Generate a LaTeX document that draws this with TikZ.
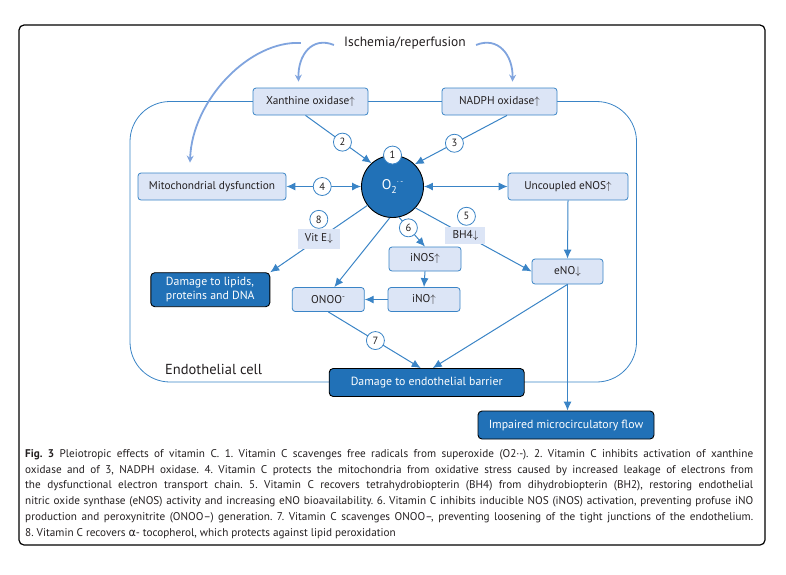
\documentclass[tikz,border=0pt]{standalone}
\usepackage{fontspec}
\setmainfont{PT Sans}
\newfontfamily\greekfont{DejaVu Sans}
\usetikzlibrary{arrows.meta}
\usetikzlibrary{calc}
\definecolor{cellblue}{RGB}{58,132,198}
\definecolor{boxfill}{RGB}{220,229,246}
\definecolor{darkblue}{RGB}{33,113,183}
\definecolor{swooshblue}{RGB}{128,164,222}
\definecolor{inkgrey}{RGB}{35,31,32}

\begin{document}
\begin{tikzpicture}[x = 1pt, y = -1pt,
            lbox/.style = {draw = cellblue, fill = boxfill, rounded corners = 3pt, line width = 0.8pt, inner sep = 0pt, text = inkgrey, font = \fontsize{11.3}{13}\selectfont},
            dbox/.style = {draw = black, fill = darkblue, rounded corners = 4pt, line width = 0.9pt, inner sep = 0pt, text = white, font = \fontsize{11.8}{14}\selectfont},
            tag/.style = {fill = boxfill, inner sep = 0pt, text = inkgrey, font = \fontsize{11.3}{13}\selectfont},
            num/.style = {circle, draw = cellblue, fill = white, line width = 0.8pt, minimum size = 18pt, inner sep = 0pt, text = inkgrey, font = \fontsize{10.5}{12}\selectfont},
            link/.style = {cellblue, line width = 1pt, -{Latex[length = 9pt, width = 8pt]}},
            both/.style = {cellblue, line width = 1pt, {Latex[length = 9pt, width = 8pt]}-{Latex[length = 9pt, width = 8pt]}},
            swoosh/.style = {swooshblue, line width = 1.8pt, -{Stealth[length = 7pt, width = 7pt]}}]
            \useasboundingbox (0,0) rectangle (786,574);
            \draw[black, line width = 1.2pt, rounded corners = 5pt] (19,25) rectangle (765,545);
            \draw[cellblue, line width = 0.8pt, rounded corners = 40pt] (130,101.5) rectangle (636.5,382);

            \node[inner sep = 0pt, text = inkgrey, font = \fontsize{13.5}{16}\selectfont] (isch) at (405,43) {Ischemia/reperfusion};
            \node[lbox, minimum width = 115pt, minimum height = 27pt] (xo) at (310.5,101.5) {Xanthine oxidase$\uparrow$};
            \node[lbox, minimum width = 115pt, minimum height = 27pt] (nox) at (499.5,101.5) {NADPH oxidase$\uparrow$};
            \node[lbox, minimum width = 148pt, minimum height = 27pt] (mito) at (212,186.5) {Mitochondrial dysfunction};
            \node[lbox, minimum width = 120pt, minimum height = 27pt] (unc) at (568,186.5) {Uncoupled eNOS$\uparrow$};
            \node[lbox, minimum width = 72pt, minimum height = 24pt] (inos) at (425,259) {iNOS$\uparrow$};
            \node[lbox, minimum width = 72pt, minimum height = 24pt] (ino) at (424,299.5) {iNO$\uparrow$};
            \node[lbox, minimum width = 72pt, minimum height = 24pt] (onoo) at (328.3,299.5) {ONOO\textsuperscript{-}};
            \node[lbox, minimum width = 71pt, minimum height = 25pt] (eno) at (567.5,271.5) {eNO$\downarrow$};
            \node[dbox, minimum width = 119pt, minimum height = 34pt, align = left] (lipids) at (210.3,289.7) {Damage to lipids,\\proteins and DNA};
            \node[dbox, minimum width = 195pt, minimum height = 28pt] (barrier) at (426.7,382.5) {Damage to endothelial barrier};
            \node[dbox, minimum width = 176pt, minimum height = 28pt] (imp) at (566,425) {Impaired microcirculatory flow};
            \node[circle, draw = black, fill = darkblue, line width = 0.9pt, minimum size = 62pt, inner sep = 0pt, text = white, font = \fontsize{14}{16}\selectfont] (o2) at (392.5,186.5) {O\raisebox{-3.5pt}{\fontsize{10}{10}\selectfont 2}\raisebox{5pt}{\fontsize{8}{8}\selectfont ·\,-}};
            \node[num] (n1) at (o2.north) {1};
            \node[inner sep = 0pt, anchor = west, text = inkgrey, font = \fontsize{14.5}{17}\selectfont] (cell) at (165,369) {Endothelial cell};

            \draw[swoosh] ($(isch.west)+(-43,0)$) .. controls (250,40) and (192,100) .. ($(mito.north)+(-22,-10)$);
            \draw[swoosh] ($(isch.west)+(-10,2)$) .. controls (312,36) and (298,55) .. ($(xo.north)+(-12,-6)$);
            \draw[swoosh] ($(isch.east)+(10,2)$) .. controls (498,36) and (513,55) .. ($(nox.north)+(13,-6)$);

            \draw[link] ([xshift = -5pt]xo.south) -- (o2.132) node[num, pos = 0.56] (n2) {2};
            \draw[link] ([xshift = 7.5pt]nox.south) -- (o2.45) node[num, pos = 0.57] (n3) {3};
            \draw[both] (mito.east) -- (o2.west) node[num, pos = 0.48] (n4) {4};
            \draw[both] (o2.east) -- (unc.west);
            \draw[link] (o2.217) -- (lipids.north east) node[tag, pos = 0.5, minimum width = 42pt, minimum height = 20pt] (vite) {Vit E$\downarrow$};
            \node[num] (n8) at ($(vite.north)+(0,-9)$) {8};
            \draw[link] (o2.265) -- ([xshift = 6pt]onoo.north);
            \draw[link] (o2.282) -- (inos.north) node[num, pos = 0.36] (n6) {6};
            \draw[link] (o2.317) -- (eno.west) node[tag, pos = 0.43, minimum width = 40pt, minimum height = 17pt] (bh4) {BH4$\downarrow$};
            \node[num] (n5) at ($(bh4.north)+(1,-10)$) {5};
            \draw[link] (unc.south) -- (eno.north);
            \draw[link] (inos.south) -- (ino.north);
            \draw[link] (ino.west) -- (onoo.east);
            \draw[link] (onoo.south) -- ([xshift = -6pt]barrier.north) node[num, pos = 0.51] (n7) {7};
            \draw[link] (eno.south) -- ([xshift = 6pt]barrier.north);
            \draw[link] (eno.south) -- (eno.south |- imp.north);

            \node[anchor = base west, inner sep = 0pt, text width = 728pt, align = justify, text = inkgrey, font = \fontsize{11.2}{15.7}\selectfont] (caption) at (25,457.5) {\frenchspacing\tolerance=10000\hyphenpenalty=10000\textbf{Fig. 3} Pleiotropic effects of vitamin C. 1. Vitamin C scavenges free radicals from superoxide (O2·-). 2. Vitamin C inhibits activation of xanthine\linebreak oxidase and of 3, NADPH oxidase. 4. Vitamin C protects the mitochondria from oxidative stress caused by increased leakage of electrons from\linebreak the dysfunctional electron transport chain. 5. Vitamin C recovers tetrahydrobiopterin (BH4) from dihydrobiopterin (BH2), restoring endothelial\linebreak nitric oxide synthase (eNOS) activity and increasing eNO bioavailability. 6. Vitamin C inhibits inducible NOS (iNOS) activation, preventing profuse iNO\linebreak production and peroxynitrite (ONOO–) generation. 7. Vitamin C scavenges ONOO–, preventing loosening of the tight junctions of the endothelium.\linebreak 8. Vitamin C recovers {\greekfont α}- tocopherol, which protects against lipid peroxidation};
        \end{tikzpicture}
\end{document}
